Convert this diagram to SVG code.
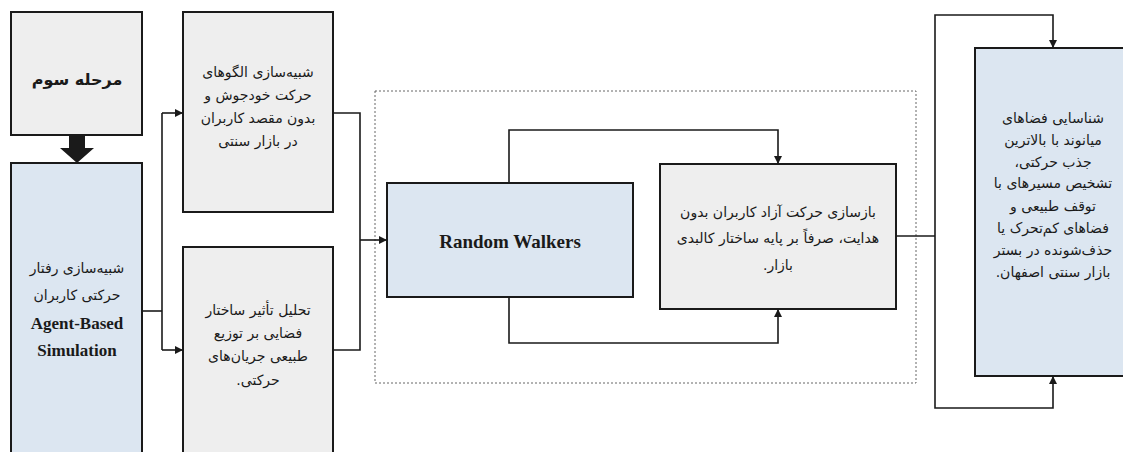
<svg xmlns="http://www.w3.org/2000/svg" width="1123" height="452" viewBox="0 0 1123 452">
<style>
.gray{fill:#eeeeee;stroke:#1a1a1a;stroke-width:2}
.blue{fill:#dce6f1;stroke:#1a1a1a;stroke-width:2}
.fa{font-family:"DejaVu Sans",sans-serif;font-size:14px;fill:#1a1a1a;text-anchor:middle;direction:rtl}
.en{font-family:"Liberation Serif",serif;font-weight:bold;fill:#1a1a1a;text-anchor:middle}
.ln{fill:none;stroke:#1a1a1a;stroke-width:1.6}
</style>
<defs>
<marker id="ah" viewBox="0 0 10 10" refX="10" refY="5" markerWidth="8" markerHeight="8" markerUnits="userSpaceOnUse" orient="auto">
<path d="M0,0 L10,5 L0,10 z" fill="#1a1a1a"/>
</marker>
</defs>
<rect width="1123" height="452" fill="#ffffff"/>
<rect x="375" y="91" width="541" height="292" fill="none" stroke="#666" stroke-width="1" stroke-dasharray="2 2"/>
<g id="n1">
<rect class="gray" x="11" y="12" width="131" height="123"/>
<text class="fa" x="77" y="85" style="font-size:16px;font-weight:bold">مرحله سوم</text>
</g>
<g id="n2">
<rect class="blue" x="11" y="163" width="131" height="300"/>
<text class="fa" x="77" y="273">شبیه‌سازی رفتار</text>
<text class="fa" x="77" y="300">حرکتی کاربران</text>
<text class="en" x="77" y="329" font-size="17">Agent-Based</text>
<text class="en" x="77" y="356" font-size="17">Simulation</text>
</g>
<g id="n3">
<rect class="gray" x="183" y="12" width="150" height="200"/>
<text class="fa" x="258" y="77">شبیه‌سازی الگوهای</text>
<text class="fa" x="258" y="100">حرکت خودجوش و</text>
<text class="fa" x="258" y="123">بدون مقصد کاربران</text>
<text class="fa" x="258" y="146">در بازار سنتی</text>
</g>
<g id="n4">
<rect class="gray" x="183" y="247" width="150" height="220"/>
<text class="fa" x="258" y="315">تحلیل تأثیر ساختار</text>
<text class="fa" x="258" y="338">فضایی بر توزیع</text>
<text class="fa" x="258" y="361">طبیعی جریان‌های</text>
<text class="fa" x="258" y="385">حرکتی.</text>
</g>
<g id="n5">
<rect class="blue" x="387" y="183" width="246" height="114"/>
<text class="en" x="510" y="248" font-size="19">Random Walkers</text>
</g>
<g id="n6">
<rect class="gray" x="660" y="164" width="236" height="145"/>
<text class="fa" x="778" y="217">بازسازی حرکت آزاد کاربران بدون</text>
<text class="fa" x="778" y="243">هدایت، صرفاً بر پایه ساختار کالبدی</text>
<text class="fa" x="778" y="270">بازار.</text>
</g>
<g id="n7">
<rect class="blue" x="975" y="48" width="160" height="328"/>
<text class="fa" x="1053" y="123">شناسایی فضاهای</text>
<text class="fa" x="1053" y="145">میانوند با بالاترین</text>
<text class="fa" x="1053" y="167">جذب حرکتی،</text>
<text class="fa" x="1053" y="188">تشخیص مسیرهای با</text>
<text class="fa" x="1053" y="211">توقف طبیعی و</text>
<text class="fa" x="1053" y="233">فضاهای کم‌تحرک یا</text>
<text class="fa" x="1053" y="255">حذف‌شونده در بستر</text>
<text class="fa" x="1053" y="277">بازار سنتی اصفهان.</text>
</g>
<g id="connectors">
<polygon points="69,135 85,135 85,148 94,148 77,163 60,148 69,148" fill="#1a1a1a"/>
<polyline class="ln" points="142,311 162,311"/>
<polyline class="ln" points="162,113 162,350"/>
<polyline class="ln" points="162,113 183,113" marker-end="url(#ah)"/>
<polyline class="ln" points="162,350 183,350" marker-end="url(#ah)"/>
<polyline class="ln" points="333,113 360,113 360,350 333,350"/>
<polyline class="ln" points="360,240 387,240" marker-end="url(#ah)"/>
<polyline class="ln" points="509,183 509,130 778,130 778,164" marker-end="url(#ah)"/>
<polyline class="ln" points="509,297 509,343 778,343 778,309" marker-end="url(#ah)"/>
<polyline class="ln" points="896,236 935,236"/>
<polyline class="ln" points="935,236 935,15 1053,15 1053,48" marker-end="url(#ah)"/>
<polyline class="ln" points="935,236 935,408 1053,408 1053,376" marker-end="url(#ah)"/>
</g>
</svg>
